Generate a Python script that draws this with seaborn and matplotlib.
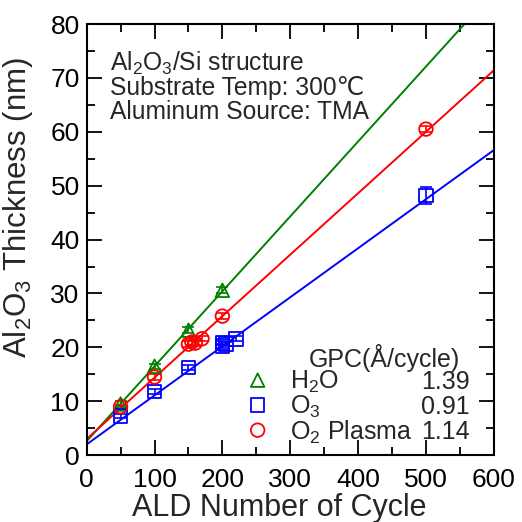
import numpy as np
import pandas as pd
import matplotlib
matplotlib.use("Agg")
import matplotlib.pyplot as plt
import seaborn as sns
from matplotlib.ticker import MultipleLocator

# Thickness vs. ALD cycles for three oxidant sources
h2o_cycles = [50, 100, 150, 200]
h2o_thick = [9.5, 16.5, 23.2, 30.6]
h2o_err = [0.5, 0.5, 0.6, 0.6]

o3_cycles = [50, 100, 150, 200, 200, 205, 220, 500]
o3_thick = [7.3, 11.8, 16.3, 20.3, 20.8, 20.6, 21.6, 48.2]
o3_err = [0.4, 0.4, 0.5, 0.4, 0.4, 0.4, 0.5, 1.6]

o2p_cycles = [50, 100, 150, 155, 160, 170, 200, 500]
o2p_thick = [9.0, 14.5, 20.6, 21.0, 20.8, 21.6, 25.8, 60.5]
o2p_err = [0.4, 0.5, 0.5, 0.5, 0.5, 0.5, 0.5, 0.6]

# Linear fits: growth per cycle (Å/cycle) and intercept (nm)
gpc = {"H2O": 1.39, "O3": 0.91, "O2 Plasma": 1.14}
intercept = {"H2O": 2.6, "O3": 2.0, "O2 Plasma": 3.0}

series_labels = [r"H$_2$O", r"O$_3$", r"O$_2$ Plasma"]
gpc_labels = ["1.39", "0.91", "1.14"]
x_ticks = [0, 100, 200, 300, 400, 500, 600]
y_ticks = [0, 10, 20, 30, 40, 50, 60, 70, 80]

sns.set_theme(style="ticks")
plt.rcParams["font.family"] = ["Liberation Sans", "DejaVu Sans"]
plt.rcParams["mathtext.fontset"] = "custom"
plt.rcParams["mathtext.rm"] = "Liberation Sans"
plt.rcParams["mathtext.it"] = "Liberation Sans:italic"
plt.rcParams["mathtext.default"] = "regular"

fig = plt.figure(figsize=(5.22, 5.22), dpi=100)
ax = fig.add_axes([0.166, 0.128, 0.780, 0.826])

groups = [
    ("H2O", h2o_cycles, h2o_thick, h2o_err, "#008000", "^"),
    ("O3", o3_cycles, o3_thick, o3_err, "#0000ff", "s"),
    ("O2 Plasma", o2p_cycles, o2p_thick, o2p_err, "#ff0000", "o"),
]

for name, xs, ys, es, col, mk in groups:
    fit = pd.DataFrame({"x": [0, 600]})
    fit["y"] = intercept[name] + gpc[name] / 10.0 * fit["x"]
    sns.lineplot(data=fit, x="x", y="y", color=col, lw=1.4, ax=ax, zorder=2)
    ax.errorbar(xs, ys, yerr=es, fmt="none", ecolor=col, elinewidth=1.2,
                capsize=4.5, capthick=1.2, zorder=3)
    sns.scatterplot(x=xs, y=ys, marker=mk, s=95, facecolor="none",
                    edgecolor=col, linewidth=1.3, ax=ax, zorder=4)

ax.set_xlim(0, 600)
ax.set_ylim(0, 80)
ax.set_xticks(x_ticks)
ax.set_yticks(y_ticks)
ax.xaxis.set_minor_locator(MultipleLocator(50))
ax.yaxis.set_minor_locator(MultipleLocator(5))
ax.tick_params(which="both", direction="in", top=True, right=True,
               labelsize=19, colors="black", width=1.3)
ax.tick_params(axis="x", which="both", pad=9)
ax.tick_params(axis="y", which="both", pad=5)
ax.tick_params(which="major", length=11)
ax.tick_params(which="minor", length=6)
for sp in ax.spines.values():
    sp.set_linewidth(1.5)
    sp.set_color("black")

ax.set_xlabel("ALD Number of Cycle", fontsize=22, labelpad=1)
ax.xaxis.set_label_coords(0.473, -0.088)
ax.set_ylabel(r"Al$_2$O$_3$ Thickness (nm)", fontsize=22.5, labelpad=1)
ax.yaxis.set_label_coords(-0.128, 0.575)

# Process conditions
info = [r"Al$_2$O$_3$/Si structure", "Substrate Temp: 300℃",
        "Aluminum Source: TMA"]
for i, line in enumerate(info):
    ax.text(0.057, 0.909 - i * 0.057, line, transform=ax.transAxes,
            fontsize=17.7, va="center", ha="left")

# GPC table
ax.text(0.732, 0.225, "GPC(Å/cycle)", transform=ax.transAxes,
        fontsize=18, va="center", ha="center")
row_y = [0.170, 0.112, 0.054]
for (name, xs, ys, es, col, mk), lab, val, yy in zip(groups, series_labels,
                                                     gpc_labels, row_y):
    ax.scatter([0.42], [yy + 0.004], transform=ax.transAxes, marker=mk, s=95,
               facecolor="none", edgecolor=col, linewidth=1.3, zorder=5)
    ax.text(0.499, yy, lab, transform=ax.transAxes, fontsize=18,
            va="center", ha="left")
    ax.text(0.941, yy, val, transform=ax.transAxes, fontsize=18,
            va="center", ha="right")

fig.savefig("out.png", dpi=100)
